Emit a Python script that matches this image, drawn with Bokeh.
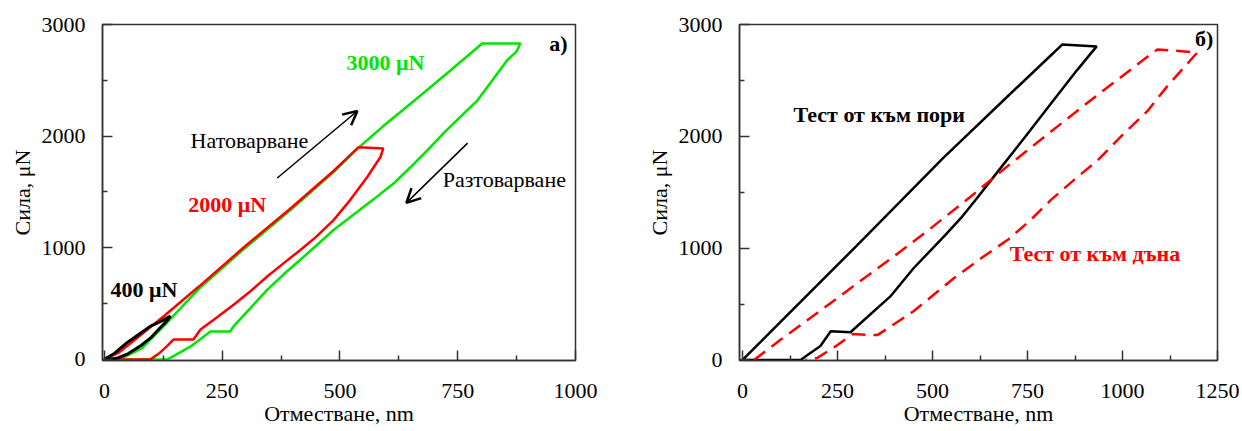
from bokeh.plotting import figure
from bokeh.layouts import row
from bokeh.models import Label, Arrow, OpenHead, FixedTicker, Range1d
from bokeh.embed import file_html
from bokeh.resources import INLINE

FONT = "Liberation Serif"

# ---------------- panel a) data ----------------
green_x = [0, 40, 80, 133, 200, 295, 400, 487, 539, 592, 664, 735, 802, 883,
           875, 855, 820, 792, 755, 720, 685, 650, 615, 570, 530, 487, 450, 416, 380,
           346, 310, 274, 267, 225, 200, 183, 160, 134, 0]
green_y = [0, 15, 100, 330, 630, 985, 1355, 1680, 1895, 2090, 2340, 2590, 2830, 2830,
           2760, 2680, 2480, 2321, 2170, 2027, 1870, 1723, 1580, 1429, 1300, 1161, 1020, 893, 760,
           625, 460, 295, 250, 250, 170, 116, 60, 0, 0]

red_x = [0, 30, 60, 98, 126, 200, 295, 400, 487, 539, 592,
         586, 558, 522, 487, 450, 416, 380, 345, 310, 275, 240, 204, 189, 147, 133, 115, 98, 0]
red_y = [0, 60, 160, 290, 387, 650, 1000, 1370, 1690, 1900, 1890,
         1813, 1634, 1429, 1250, 1100, 980, 860, 740, 610, 491, 380, 268, 179, 179, 119, 50, 0, 0]

black_x = [0, 20, 48, 75, 98, 120, 140, 132, 120, 100, 76, 50, 30, 10, 0]
black_y = [0, 50, 150, 230, 298, 340, 387, 340, 290, 200, 119, 50, 15, 0, 0]

# ---------------- panel б) data ----------------
pore_x = [0, 100, 200, 300, 400, 529, 600, 700, 800, 842, 932,
          880, 820, 745, 680, 620, 575, 534, 450, 389, 284, 232, 205, 171, 153, 0]
pore_y = [0, 340, 680, 1020, 1365, 1810, 2040, 2365, 2687, 2822, 2804,
          2590, 2330, 2000, 1720, 1460, 1270, 1118, 820, 568, 248, 257, 124, 44, 0, 0]

bottom_x = [30, 100, 200, 300, 400, 500, 600, 700, 800, 900, 1000, 1074, 1092, 1197,
            1174, 1118, 1066, 1003, 934, 871, 811, 758, 700, 626, 555, 450, 355, 289, 250, 197, 166]
bottom_y = [0, 180, 430, 680, 930, 1190, 1460, 1740, 2010, 2280, 2540, 2733, 2777, 2750,
            2662, 2449, 2227, 2023, 1784, 1606, 1429, 1251, 1080, 905, 728, 435, 222, 231, 133, 18, 0]

xticks_a = [0, 250, 500, 750, 1000]
xminor_a = [125, 375, 625, 875]
xticks_b = [0, 250, 500, 750, 1000, 1250]
xminor_b = [125, 375, 625, 875, 1125]
yticks = [0, 1000, 2000, 3000]
yminor = [500, 1500, 2500]

x_title = "Отместване, nm"
y_title = "Сила, μN"


def make_fig(width, xr, yr, bl, br, bb, xt, xm):
    p = figure(width=width, height=431, x_range=Range1d(*xr), y_range=Range1d(*yr),
               output_backend="svg", toolbar_location=None,
               min_border_left=bl, min_border_right=br, min_border_top=24, min_border_bottom=bb)
    p.xgrid.visible = False
    p.ygrid.visible = False
    p.outline_line_color = "#333333"
    p.outline_line_width = 1.5
    p.outline_line_alpha = 1
    p.xaxis.ticker = FixedTicker(ticks=xt, minor_ticks=xm)
    p.yaxis.ticker = FixedTicker(ticks=yticks, minor_ticks=yminor)
    for ax in (p.xaxis, p.yaxis):
        ax.axis_line_color = "#333333"
        ax.axis_line_width = 1.5
        ax.major_tick_line_color = "#333333"
        ax.minor_tick_line_color = "#333333"
        ax.major_tick_line_width = 1.5
        ax.minor_tick_line_width = 1.5
        ax.major_tick_in = 10
        ax.major_tick_out = 0
        ax.minor_tick_in = 5
        ax.minor_tick_out = 0
        ax.major_label_text_font = FONT
        ax.major_label_text_font_size = "22px"
        ax.major_label_text_color = "black"
        ax.axis_label_text_font = FONT
        ax.axis_label_text_font_size = "22px"
        ax.axis_label_text_font_style = "normal"
        ax.axis_label_text_color = "black"
    p.xaxis.major_label_standoff = 23
    p.yaxis.major_label_standoff = 17
    p.xaxis.axis_label = x_title
    p.xaxis.axis_label_standoff = 0
    p.yaxis.axis_label = y_title
    p.yaxis.axis_label_standoff = 4
    return p


def lab(p, x, y, text, color="black", bold=True, align="left", size="22px"):
    p.add_layout(Label(x=x, y=y, text=text, text_font=FONT, text_font_size=size,
                       text_font_style="bold" if bold else "normal", text_color=color,
                       text_align=align, text_baseline="middle"))


# ---------------- figure a) ----------------
p1 = make_fig(620, (-4, 1000), (-10, 3000), 102, 45, 71, xticks_a, xminor_a)
p1.line(green_x, green_y, line_color="#00e600", line_width=2.5)
p1.line(red_x, red_y, line_color="#ff0000", line_width=2.5)
p1.line(black_x, black_y, line_color="black", line_width=3)

lab(p1, 514, 2661, "3000 μN", color="#00e600")
lab(p1, 178, 1384, "2000 μN", color="#ff0000")
lab(p1, 13, 625, "400 μN")
lab(p1, 183, 1964, "Натоварване", bold=False)
lab(p1, 718, 1607, "Разтоварване", bold=False)
lab(p1, 983, 2830, "а)", align="right")

p1.add_layout(Arrow(end=OpenHead(size=14, line_width=2.5, line_color="black"),
                    x_start=367, y_start=1625, x_end=537, y_end=2225,
                    line_width=1.5, line_color="black"))
p1.add_layout(Arrow(end=OpenHead(size=14, line_width=2.5, line_color="black"),
                    x_start=771, y_start=1937, x_end=641, y_end=1402,
                    line_width=1.5, line_color="black"))

# ---------------- figure б) ----------------
p2 = make_fig(622, (-8, 1250), (-5, 3000), 119, 25, 69, xticks_b, xminor_b)
p2.line(pore_x, pore_y, line_color="black", line_width=2.5)
p2.line(bottom_x, bottom_y, line_color="#ff0000", line_width=2.5, line_dash="14 8")

lab(p2, 134, 2192, "Тест от към пори")
lab(p2, 703, 949, "Тест от към дъна", color="#ff0000")
lab(p2, 1239, 2875, "б)", align="right")

layout = row(p1, p2)
open("out.html", "w").write(file_html(layout, INLINE))
